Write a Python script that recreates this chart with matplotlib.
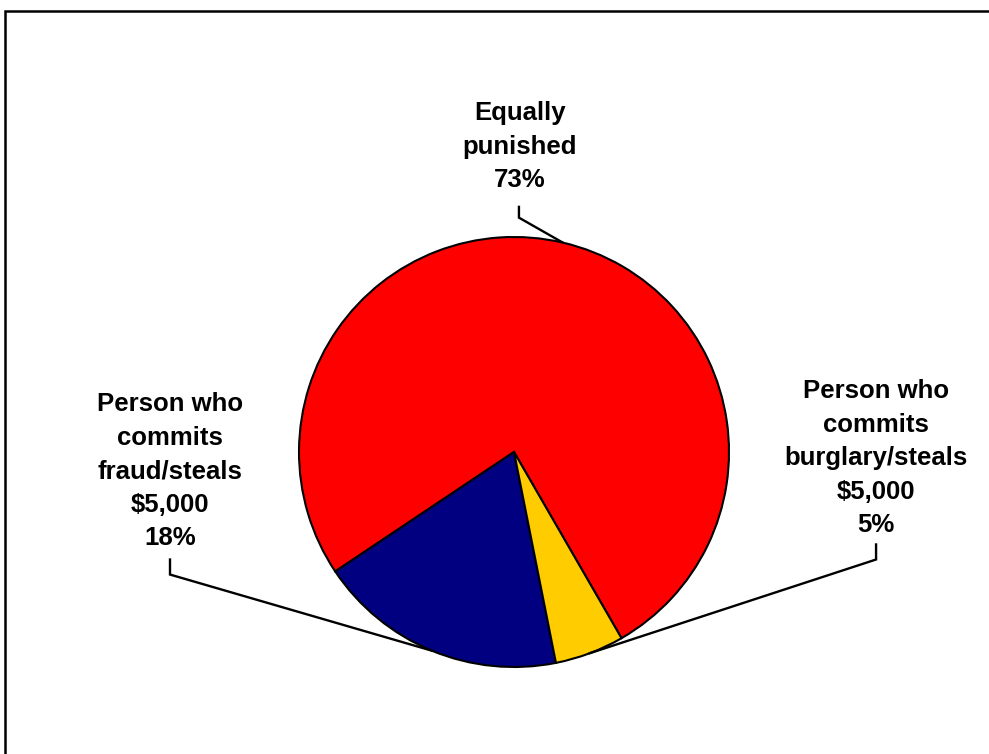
import matplotlib
matplotlib.use("Agg")
import matplotlib.pyplot as plt
import matplotlib.patches as mpatches
import numpy as np

plt.rcParams['font.family'] = ['Liberation Sans', 'DejaVu Sans']

categories = ["Equally\npunished", "Person who\ncommits\nfraud/steals\n$5,000", "Person who\ncommits\nburglary/steals\n$5,000"]
values = [73, 18, 5]
colors = ["#FF0000", "#000080", "#FFCC00"]

W, H = 989, 754
fig = plt.figure(figsize=(W / 100, H / 100), dpi=100)
cx, cy, r = 514, 452, 215
ax = fig.add_axes([(cx - r) / W, (H - cy - r) / H, 2 * r / W, 2 * r / H])

wedges, _ = ax.pie(values, colors=colors, startangle=300, counterclock=True, radius=1,
                   wedgeprops=dict(edgecolor='black', linewidth=1.5))
ax.set_xlim(-1, 1)
ax.set_ylim(-1, 1)
ax.set_aspect('equal')
ax.axis('off')
for w in wedges:
    w.set_clip_on(False)

# label positions (data units, radius = 1) and leader bends
label_pos = [(0.028, 1.42), (-1.60, -0.09), (1.684, -0.03)]
bends = [[(0.023, 1.14), (0.023, 1.09)],
         [(-1.60, -0.50), (-1.60, -0.57)],
         [(1.684, -0.43), (1.684, -0.50)]]

for w, cat, v, (lx, ly), bend in zip(wedges, categories, values, label_pos, bends):
    ax.text(lx, ly, f"{cat}\n{v}%", ha='center', va='center', fontsize=18.5,
            fontweight='bold', linespacing=1.5, clip_on=False)
    mid = np.deg2rad((w.theta1 + w.theta2) / 2)
    px, py = np.cos(mid), np.sin(mid)
    xs = [bend[0][0], bend[1][0], px]
    ys = [bend[0][1], bend[1][1], py]
    ax.plot(xs, ys, color='black', linewidth=1.7, clip_on=False, solid_joinstyle='miter')

# chart area border (cropped on right and bottom)
fig.patches.append(mpatches.Rectangle((5 / W, -0.1), 1.2, (H - 11) / H + 0.1,
                                      transform=fig.transFigure, fill=False,
                                      edgecolor='black', linewidth=1.8))

fig.savefig("out.png", dpi=100)
